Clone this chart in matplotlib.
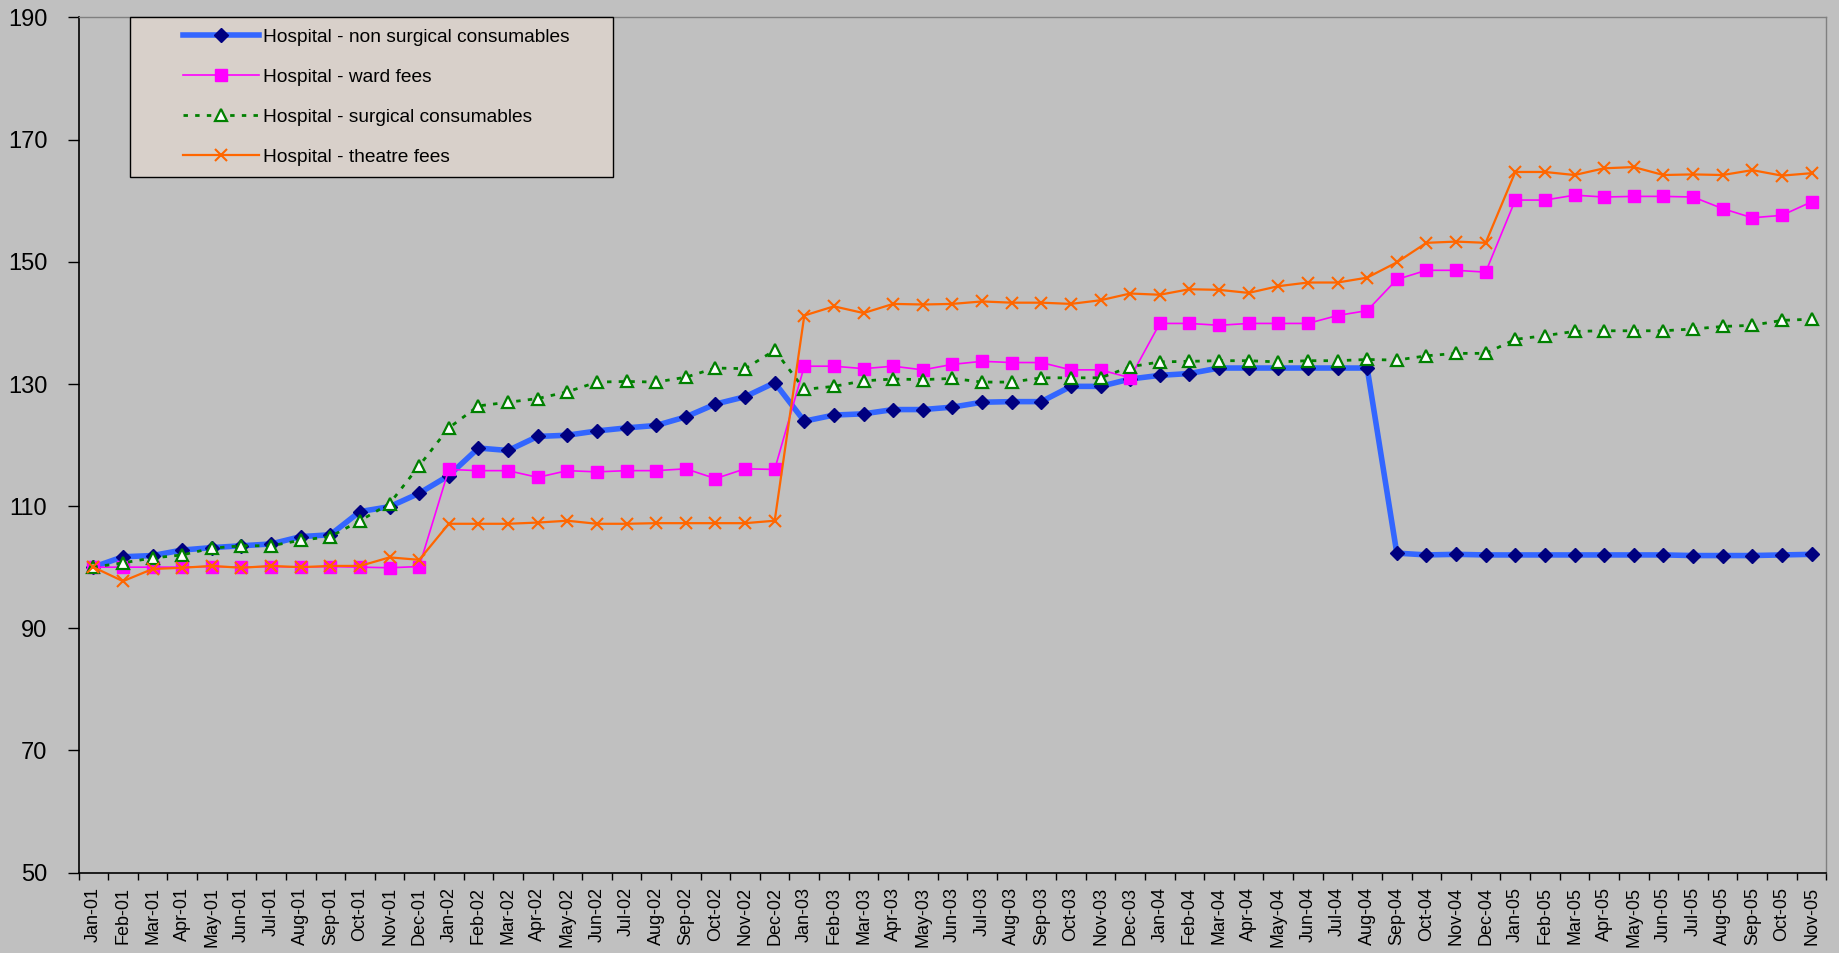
import matplotlib
matplotlib.use("Agg")
import matplotlib.pyplot as plt
from matplotlib.patches import Rectangle
from matplotlib.ticker import FixedLocator

plt.rcParams['font.family'] = ['Liberation Sans', 'DejaVu Sans']

months = ["Jan", "Feb", "Mar", "Apr", "May", "Jun",
          "Jul", "Aug", "Sep", "Oct", "Nov", "Dec"]
labels = [m + "-0" + str(y) for y in range(1, 6) for m in months][:59]

non_surgical = [100.0, 101.7, 101.9, 102.8, 103.2, 103.5, 103.8, 105.0, 105.3, 109.1, 109.9, 112.1,
                115.0, 119.5, 119.1, 121.4, 121.6, 122.3, 122.8, 123.2, 124.6, 126.7, 127.9, 130.2,
                123.9, 124.9, 125.1, 125.8, 125.8, 126.2, 127.0, 127.1, 127.1, 129.6, 129.6, 130.8,
                131.4, 131.7, 132.6, 132.6, 132.6, 132.6, 132.6, 132.6, 102.3, 102.0, 102.1, 102.0,
                102.0, 102.0, 102.0, 102.0, 102.0, 102.0, 101.9, 101.9, 101.9, 102.0, 102.1]

ward_fees = [100.0, 100.0, 100.0, 100.0, 100.1, 100.0, 100.1, 100.0, 100.1, 100.0, 99.9, 100.1,
             116.0, 115.8, 115.8, 114.7, 115.8, 115.6, 115.8, 115.8, 116.1, 114.5, 116.1, 116.0,
             132.9, 132.9, 132.5, 132.9, 132.3, 133.2, 133.7, 133.5, 133.5, 132.3, 132.3, 131.0,
             139.9, 139.9, 139.6, 139.9, 139.9, 139.9, 141.2, 142.0, 147.1, 148.6, 148.6, 148.3,
             160.1, 160.1, 160.9, 160.6, 160.7, 160.7, 160.6, 158.7, 157.2, 157.6, 159.8]

surgical = [100.0, 100.7, 101.5, 102.0, 103.1, 103.5, 103.5, 104.4, 105.0, 107.6, 110.4, 116.6,
            122.8, 126.4, 127.0, 127.6, 128.7, 130.3, 130.4, 130.3, 131.1, 132.6, 132.5, 135.5,
            129.1, 129.6, 130.5, 130.8, 130.7, 130.9, 130.3, 130.3, 131.0, 131.0, 131.0, 132.8,
            133.6, 133.7, 133.8, 133.8, 133.6, 133.8, 133.8, 134.0, 133.9, 134.6, 135.0, 135.0,
            137.3, 137.9, 138.6, 138.7, 138.7, 138.7, 139.0, 139.4, 139.6, 140.4, 140.6]

theatre_fees = [100.0, 97.7, 99.7, 99.9, 100.2, 99.9, 100.2, 100.0, 100.2, 100.2, 101.6, 101.2,
                107.1, 107.1, 107.1, 107.3, 107.6, 107.1, 107.1, 107.2, 107.2, 107.2, 107.2, 107.6,
                141.2, 142.7, 141.6, 143.1, 143.0, 143.1, 143.5, 143.3, 143.3, 143.1, 143.7, 144.8,
                144.6, 145.5, 145.4, 144.9, 146.0, 146.6, 146.6, 147.4, 149.9, 153.1, 153.3, 153.1,
                164.7, 164.7, 164.2, 165.3, 165.5, 164.2, 164.3, 164.2, 165.0, 164.1, 164.5]

x = list(range(len(labels)))

fig = plt.figure(figsize=(18.392, 9.532), dpi=100, facecolor="#C0C0C0")
ax = fig.add_axes([0.0427, 0.0844, 0.9503, 0.8971])
ax.set_facecolor("#C0C0C0")

l1, = ax.plot(x, non_surgical, color="#3366FF", lw=4.0, marker="D", ms=7.5,
              mfc="#000080", mec="#000080", label="Hospital - non surgical consumables")
l2, = ax.plot(x, ward_fees, color="#FF00FF", lw=1.2, marker="s", ms=8.5,
              mfc="#FF00FF", mec="#FF00FF", label="Hospital - ward fees")
l3, = ax.plot(x, surgical, color="#008000", lw=2.0, ls=(0, (1.6, 2.6)), marker="^", ms=8.5,
              mfc="white", mec="#008000", mew=1.6, label="Hospital - surgical consumables")
l4, = ax.plot(x, theatre_fees, color="#FF6600", lw=1.6, marker="x", ms=8.5,
              mec="#FF6600", mew=1.5, label="Hospital - theatre fees")

ax.set_xlim(-0.5, len(labels) - 0.5)
ax.set_ylim(50, 190)
ax.set_yticks([50, 70, 90, 110, 130, 150, 170, 190])
ax.tick_params(axis="y", direction="out", length=8, width=1, pad=14.5, labelsize=17, colors="black")

ax.set_xticks(x)
ax.set_xticklabels(labels, rotation=90, fontsize=13)
ax.xaxis.set_minor_locator(FixedLocator([i - 0.5 for i in range(len(labels) + 1)]))
ax.tick_params(axis="x", which="major", length=0, pad=10)
ax.tick_params(axis="x", which="minor", direction="out", length=5, width=1)

for s in ["left", "bottom"]:
    ax.spines[s].set_color("black")
    ax.spines[s].set_linewidth(1.2)
for s in ["top", "right"]:
    ax.spines[s].set_color("#808080")
    ax.spines[s].set_linewidth(1.0)

# legend frame drawn by hand so the padding matches
ax.add_patch(Rectangle((0.0294, 0.8136), 0.2765, 0.1874, transform=ax.transAxes,
                       facecolor="#D8D0CA", edgecolor="black", lw=1.0, zorder=5,
                       clip_on=False))
leg = ax.legend(handles=[l1, l2, l3, l4], loc="upper left", bbox_to_anchor=(0.0596, 0.987),
                frameon=False, borderpad=0, borderaxespad=0, handlelength=4.0,
                handletextpad=0.2, labelspacing=1.17, fontsize=13.8)
leg.set_zorder(6)

fig.savefig("out.png", dpi=100, facecolor=fig.get_facecolor())
